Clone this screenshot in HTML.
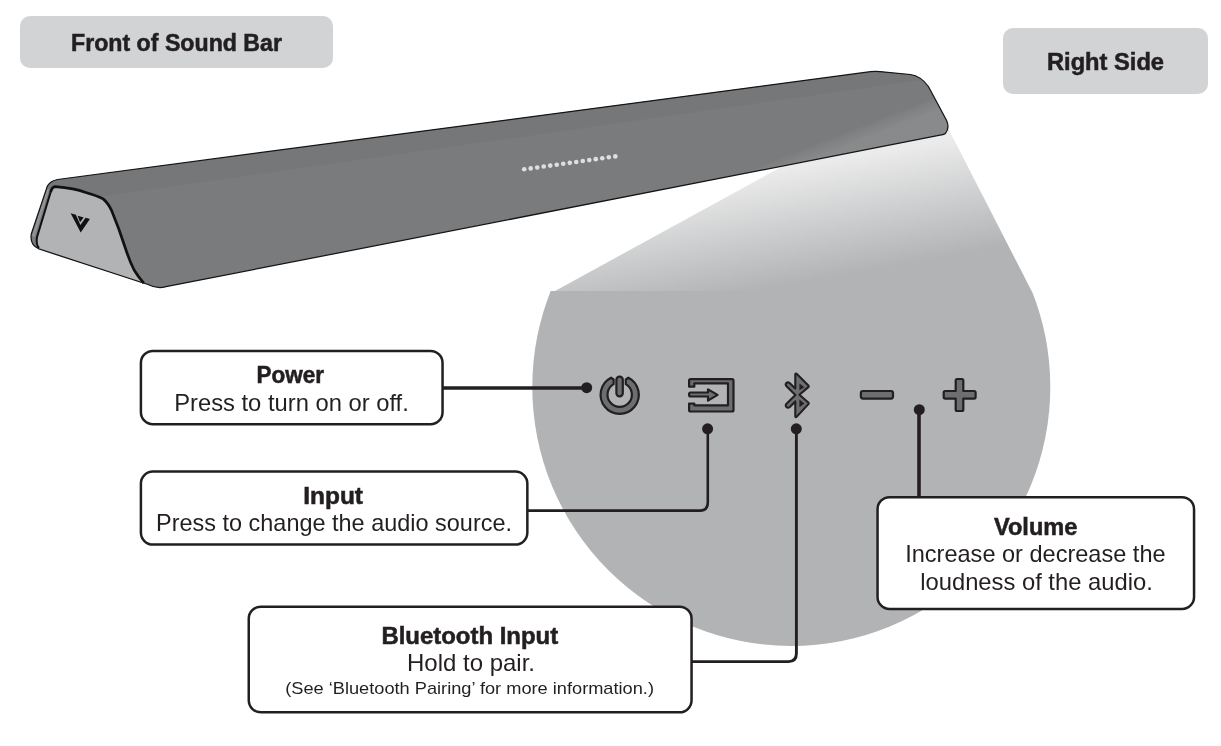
<!DOCTYPE html>
<html><head><meta charset="utf-8"><style>
html,body{margin:0;padding:0;background:#fff;width:1221px;height:746px;overflow:hidden}
svg{display:block;will-change:transform}
text{font-family:"Liberation Sans",sans-serif;fill:#231f20}
</style></head><body>
<svg width="1221" height="746" viewBox="0 0 1221 746">
<defs>
<linearGradient id="cone" gradientUnits="userSpaceOnUse" x1="780.3" y1="169.7" x2="800.6" y2="282.9">
<stop offset="0" stop-color="#ebebeb"/>
<stop offset="1" stop-color="#b1b3b5"/>
</linearGradient>
<clipPath id="barclip"><path d="M57.6,179.5 L870.5,71.7 Q875,71.2 880,71.6 L910.3,74.5 Q921,76 928.4,86.5 L946.5,120.3 Q950,128 945.3,133.6 Q943,134.6 940,135.2 L166,286.7 Q157,289.2 148,284.5 L39,249 Q29.5,245 31.3,234 L47.4,186 Q50.6,180.7 57.6,179.5 Z"/></clipPath>
<linearGradient id="ovl" gradientUnits="userSpaceOnUse" x1="846.5" y1="130" x2="852" y2="144"><stop offset="0" stop-color="#fff" stop-opacity="0"/><stop offset="1" stop-color="#fff" stop-opacity="0.11"/></linearGradient>
</defs>
<!-- labels -->
<rect x="20" y="16" width="313" height="52" rx="10" fill="#d1d3d4"/>
<rect x="1003" y="28" width="205" height="66" rx="10" fill="#d1d3d4"/>
<!-- circle -->
<clipPath id="topclip"><rect x="0" y="291" width="1221" height="455"/></clipPath>
<circle cx="791.3" cy="386.9" r="259" fill="#b1b3b5" clip-path="url(#topclip)"/>
<!-- cone -->
<path d="M927,87 L555,291 L1031.6,291 Z" fill="url(#cone)"/>
<!-- sound bar -->
<path d="M57.6,179.5 L870.5,71.7 Q875,71.2 880,71.6 L910.3,74.5 Q921,76 928.4,86.5 L946.5,120.3 Q950,128 945.3,133.6 Q943,134.6 940,135.2 L166,286.7 Q157,289.2 148,284.5 L39,249 Q29.5,245 31.3,234 L47.4,186 Q50.6,180.7 57.6,179.5 Z" fill="#7a7b7d"/>
<g clip-path="url(#barclip)">
<path d="M0,210.8 L104,196 L930,78.7 L960,0 L0,0 Z" fill="#767779"/>
<path d="M700,190 L960,88 L960,300 L600,300 Z" fill="url(#ovl)"/>
</g>
<!-- end face -->
<path d="M55.2,186.7 Q75,188.5 85,192.2 Q97,195.6 103.1,198.9 Q108,203 111.5,210.3 L118.8,229 L126,250 Q130,262 134.1,270 Q138,276.5 144.5,284 L39,248 Q36,245 36.9,237.4 L50.6,192.3 Q52,187 55.2,186.7 Z" fill="#b1b3b5"/>
<path d="M48,189 L33.3,236.5" fill="none" stroke="#939496" stroke-width="2.6"/>
<path d="M50.6,192.3 Q52,187 55.2,186.7 Q75,188.5 85,192.2 Q97,195.6 103.1,198.9 Q108,203 111.5,210.3 L118.8,229 L126,250 Q130,262 134.1,270 Q138,276.5 143.8,283.2" fill="none" stroke="#111" stroke-width="2.7"/>
<path d="M50.6,192.3 L36.9,237.4 Q36,245 39,248" fill="none" stroke="#111" stroke-width="2.0"/>
<path d="M57.6,179.5 L870.5,71.7 Q875,71.2 880,71.6 L910.3,74.5 Q921,76 928.4,86.5 L946.5,120.3 Q950,128 945.3,133.6 Q943,134.6 940,135.2 L166,286.7 Q157,289.2 148,284.5 L39,249 Q29.5,245 31.3,234 L47.4,186 Q50.6,180.7 57.6,179.5 Z" fill="none" stroke="#151515" stroke-width="1.25"/>
<!-- logo -->
<path d="M70.6,213.2 L75.9,214.75 L80.4,225 L85.6,217.65 L89.9,218.9 L80.7,232.5 Z" fill="#111"/>
<path d="M77.7,215.7 L83.7,217.5 L80,222.3 Z" fill="#111"/>
<!-- leds -->
<g fill="#dedfe0">
<circle cx="524.20" cy="169.30" r="2.3"/><circle cx="530.71" cy="168.38" r="2.3"/><circle cx="537.21" cy="167.46" r="2.3"/><circle cx="543.72" cy="166.54" r="2.3"/><circle cx="550.23" cy="165.61" r="2.3"/><circle cx="556.74" cy="164.69" r="2.3"/><circle cx="563.24" cy="163.77" r="2.3"/><circle cx="569.75" cy="162.85" r="2.3"/><circle cx="576.26" cy="161.93" r="2.3"/><circle cx="582.76" cy="161.01" r="2.3"/><circle cx="589.27" cy="160.09" r="2.3"/><circle cx="595.78" cy="159.16" r="2.3"/><circle cx="602.29" cy="158.24" r="2.3"/><circle cx="608.79" cy="157.32" r="2.3"/><circle cx="615.30" cy="156.40" r="2.3"/>
</g>
<!-- icons -->
<g fill="#6d6e71" stroke="#231f20" stroke-width="2.2" stroke-linejoin="round">
<path d="M611.00,377.70 A19.1,19.1 0 1 0 628.40,377.70 L625.80,379.50 L625.80,384.13 A12.2,12.2 0 1 1 613.60,384.13 L613.60,379.50 Z"/>
<rect x="616.4" y="376.7" width="6.4" height="19.7" rx="3.1"/>
<path d="M690.6,379.1 H732 Q733.5,379.1 733.5,380.6 V410 Q733.5,411.5 732,411.5 H690.6 Q689.1,411.5 689.1,410 V403.6 H694.3 V405.3 H728 V383.3 H694.3 V386.7 H689.1 V380.6 Q689.1,379.1 690.6,379.1 Z"/>
<path d="M689.1,394 Q689.1,392.5 690.6,392.5 H708 V389.4 L717.6,394.9 L708,400.6 V396.5 H690.6 Q689.1,396.5 689.1,395 Z"/>
<rect x="860.9" y="391" width="32.1" height="7.6" rx="2"/>
<path d="M957.2,379 H961.8 Q963.3,379 963.3,380.5 V391 H974.1 Q975.6,391 975.6,392.5 V397.1 Q975.6,398.6 974.1,398.6 H963.3 V409.5 Q963.3,411 961.8,411 H957.2 Q955.7,411 955.7,409.5 V398.6 H945.2 Q943.7,398.6 943.7,397.1 V392.5 Q943.7,391 945.2,391 H955.7 V380.5 Q955.7,379 957.2,379 Z"/>
</g>
<path fill="#6d6e71" stroke="#231f20" stroke-width="2.1" stroke-linejoin="round" fill-rule="evenodd" d="M795.3,374.6 Q795.3,373.3 796.6,373.7 L808.6,385.7 L808.6,386.9 L799.4,394.8 L808.6,402.7 L808.6,403.9 L796.6,416.9 Q795.3,417.6 795.3,416.2 L795.3,401.4 L789.8,407 Q787.8,408.4 786.3,406.9 Q785.1,405.4 786.5,403.8 L795.4,394.9 L786.5,386.2 Q785.1,384.6 786.3,383.1 Q787.8,381.6 789.6,383 L795.3,388.6 Z"/>
<path fill="#231f20" d="M799.4,383.4 L804.4,387.3 L799.4,390.3 Z M799.4,399.6 L804.4,403.4 L799.4,407.3 Z"/>
<!-- connectors -->
<g fill="none" stroke="#231f20" stroke-width="2.6">
<path d="M443,388 H586.7" stroke-width="3.5"/>
<path d="M707.8,428.8 V502.6 Q707.8,510.6 699.8,510.6 H528"/>
<path d="M796.4,428.8 V653.6 Q796.4,661.6 788.4,661.6 H692" stroke-width="2.9"/>
<path d="M919,409.7 V497" stroke-width="3.6"/>
</g>
<g fill="#231f20">
<circle cx="586.7" cy="387.7" r="5.5"/>
<circle cx="707.6" cy="428.8" r="5.5"/>
<circle cx="796.3" cy="428.8" r="5.5"/>
<circle cx="919.3" cy="409.7" r="5.5"/>
</g>
<!-- boxes -->
<rect x="140.9" y="350.9" width="301.65" height="73.25" rx="12" fill="#fff" stroke="#231f20" stroke-width="2.5"/>
<rect x="140.9" y="471.55" width="386.45000000000005" height="72.99999999999994" rx="12" fill="#fff" stroke="#231f20" stroke-width="2.5"/>
<rect x="248.75" y="606.65" width="442.79999999999995" height="105.70000000000005" rx="12" fill="#fff" stroke="#231f20" stroke-width="2.5"/>
<rect x="877.55" y="497.15" width="316.5" height="111.80000000000007" rx="12" fill="#fff" stroke="#231f20" stroke-width="2.5"/>
<text x="71.00" y="50.8" font-size="24.5" font-weight="bold" textLength="211.00" lengthAdjust="spacingAndGlyphs" stroke="#231f20" stroke-width="0.55">Front of Sound Bar</text>
<text x="1047.00" y="70.2" font-size="24.5" font-weight="bold" textLength="117.00" lengthAdjust="spacingAndGlyphs" stroke="#231f20" stroke-width="0.55">Right Side</text>
<text x="256.60" y="382.9" font-size="24.5" font-weight="bold" textLength="67.40" lengthAdjust="spacingAndGlyphs" stroke="#231f20" stroke-width="0.55">Power</text>
<text x="174.20" y="410.6" font-size="23.8" font-weight="normal" textLength="234.60" lengthAdjust="spacingAndGlyphs" stroke="#231f20" stroke-width="0">Press to turn on or off.</text>
<text x="303.20" y="503.7" font-size="24.5" font-weight="bold" textLength="59.80" lengthAdjust="spacingAndGlyphs" stroke="#231f20" stroke-width="0.55">Input</text>
<text x="156.00" y="530.6" font-size="23.8" font-weight="normal" textLength="356.00" lengthAdjust="spacingAndGlyphs" stroke="#231f20" stroke-width="0">Press to change the audio source.</text>
<text x="381.40" y="644.1" font-size="24" font-weight="bold" textLength="176.80" lengthAdjust="spacingAndGlyphs" stroke="#231f20" stroke-width="0.55">Bluetooth Input</text>
<text x="407.00" y="670.7" font-size="23.8" font-weight="normal" textLength="128.00" lengthAdjust="spacingAndGlyphs" stroke="#231f20" stroke-width="0">Hold to pair.</text>
<text x="285.20" y="694.2" font-size="15.7" font-weight="normal" textLength="368.80" lengthAdjust="spacingAndGlyphs" stroke="#231f20" stroke-width="0">(See ‘Bluetooth Pairing’ for more information.)</text>
<text x="994.00" y="534.8" font-size="24" font-weight="bold" textLength="83.40" lengthAdjust="spacingAndGlyphs" stroke="#231f20" stroke-width="0.55">Volume</text>
<text x="905.20" y="561.9" font-size="23.8" font-weight="normal" textLength="260.40" lengthAdjust="spacingAndGlyphs" stroke="#231f20" stroke-width="0">Increase or decrease the</text>
<text x="920.20" y="589.6" font-size="23.8" font-weight="normal" textLength="232.60" lengthAdjust="spacingAndGlyphs" stroke="#231f20" stroke-width="0">loudness of the audio.</text>
</svg>
</body></html>
